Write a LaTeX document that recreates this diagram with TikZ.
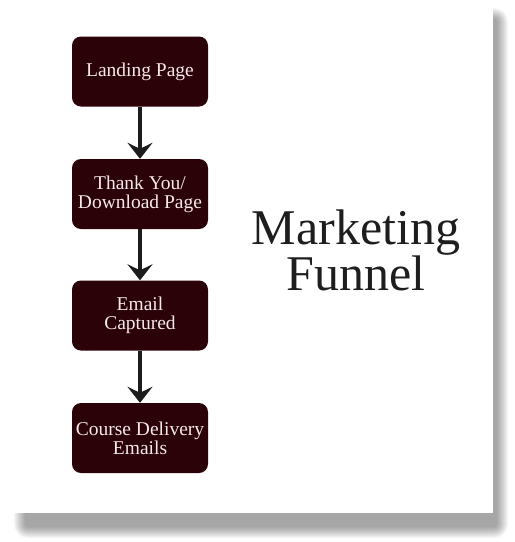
\documentclass[tikz,border=0pt]{standalone}
\usepackage{fontspec}
\setmainfont{Liberation Serif}
\usetikzlibrary{arrows.meta}
\definecolor{boxfill}{HTML}{2A0208}
\definecolor{boxtext}{HTML}{F6E9E9}
\definecolor{arrowc}{HTML}{1C1C1C}
\definecolor{titlec}{HTML}{1E1E1E}
\tikzset{
  stepbox/.style={draw=none, fill=boxfill, rounded corners=9pt, minimum width=136pt, minimum height=70pt,
    text=boxtext, align=center, font=\fontsize{19.5}{19}\selectfont, inner sep=0pt},
  flowarrow/.style={draw=arrowc, line width=3.2pt, -{Stealth[length=16pt,width=25pt,inset=6pt]}},
}
\begin{document}
\begin{tikzpicture}[x=1pt,y=-1pt]
\useasboundingbox (0,0) rectangle (515,542);
% shadow
\foreach \i in {0,...,11}{
  \fill[black, opacity=0.035, rounded corners={14pt-\i pt}] ({14+\i},{8+\i}) rectangle ({508-\i},{538-\i});
}
\fill[white] (11,5) rectangle (493,513);
\node[stepbox] (n1) at (140,71.5) {Landing Page};
\node[stepbox] (n2) at (140,194) {Thank You/\\Download Page};
\node[stepbox] (n3) at (140,315.5) {Email\\Captured};
\node[stepbox] (n4) at (140,438) {Course Delivery\\Emails};
\draw[flowarrow] (n1) -- (n2);
\draw[flowarrow] (n2) -- (n3);
\draw[flowarrow] (n3) -- (n4);
\node[text=titlec, align=center, font=\fontsize{50}{46}\selectfont, inner sep=0pt] (title) at (356,250) {Marketing\\Funnel};
\end{tikzpicture}
\end{document}
